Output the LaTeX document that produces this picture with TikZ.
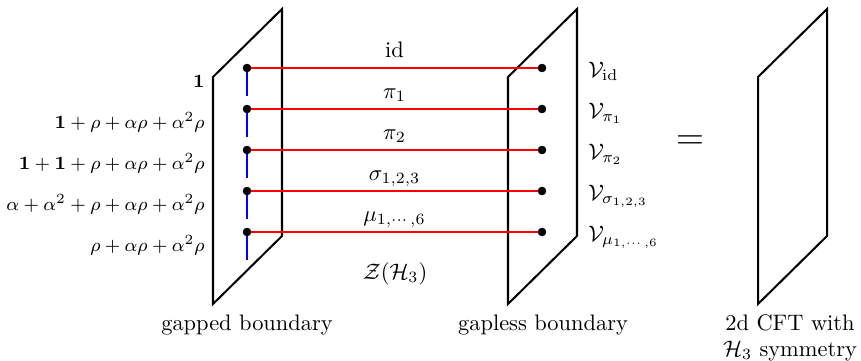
\documentclass[tikz,border=0pt]{standalone}
\usepackage{amsmath,amssymb,graphicx}
\newcommand{\leftmath}[1]{\scalebox{1.042}{$#1$}}
\begin{document}
\begin{tikzpicture}[x=0.446pt,y=-0.446pt,
  plane/.style={draw, line width=0.9pt, line join=miter},
  dotnode/.style={circle, fill, inner sep=0pt, minimum size=3.7pt},
  redline/.style={red, line width=0.9pt},
  blueline/.style={blue, line width=0.9pt},
  leftlab/.style={font=\footnotesize, anchor=base east, inner sep=0pt},
  vlab/.style={anchor=base west, inner sep=0pt},
  mlab/.style={anchor=base, inner sep=0pt, yshift=4.9pt},
  botlab/.style={anchor=base, inner sep=0pt}]
\useasboundingbox (0,0) rectangle (861,360);

% planes
\foreach \n/\dx in {A/0, B/295, C/545} {
  \coordinate (\n1) at (213+\dx,77);
  \coordinate (\n2) at (282+\dx,9);
  \coordinate (\n3) at (282+\dx,236);
  \coordinate (\n4) at (213+\dx,304);
  \draw[plane] (\n1) -- (\n2) -- (\n3) -- (\n4) -- cycle;
}

% dots
\foreach \i/\y in {1/68, 2/109, 3/150, 4/191, 5/232} {
  \node[dotnode] (L\i) at (247,\y) {};
  \node[dotnode] (R\i) at (542,\y) {};
  \coordinate (D\i) at (247,\y+28);
  \draw[blueline] (L\i.center) -- (D\i);
}

\draw[redline] (L1.center) -- node[mlab, text=black] {id} (R1.center);
\draw[redline] (L2.center) -- node[mlab, text=black] {$\pi_1$} (R2.center);
\draw[redline] (L3.center) -- node[mlab, text=black] {$\pi_2$} (R3.center);
\draw[redline] (L4.center) -- node[mlab, text=black] {$\sigma_{1,2,3}$} (R4.center);
\draw[redline] (L5.center) -- node[mlab, text=black] {$\mu_{1,\cdots,6}$} (R5.center);

\foreach \i in {1,...,5} {
  \node[dotnode] at (L\i) {};
  \node[dotnode] at (R\i) {};
}

% left labels
\node[leftlab] (l1) at (205,87) {\leftmath{\mathbf{1}}};
\node[leftlab] (l2) at (205,128) {\leftmath{\mathbf{1}+\rho+\alpha\rho+\alpha^2\rho}};
\node[leftlab] (l3) at (205,169) {\leftmath{\mathbf{1}+\mathbf{1}+\rho+\alpha\rho+\alpha^2\rho}};
\node[leftlab] (l4) at (205,210) {\leftmath{\alpha+\alpha^2+\rho+\alpha\rho+\alpha^2\rho}};
\node[leftlab] (l5) at (205,251) {\leftmath{\rho+\alpha\rho+\alpha^2\rho}};

% right labels
\node[vlab] (v1) at (588,77) {$\mathcal{V}_{\mathrm{id}}$};
\node[vlab] (v2) at (588,118) {$\mathcal{V}_{\pi_1}$};
\node[vlab] (v3) at (588,159) {$\mathcal{V}_{\pi_2}$};
\node[vlab] (v4) at (588,200) {$\mathcal{V}_{\sigma_{1,2,3}}$};
\node[vlab] (v5) at (588,241) {$\mathcal{V}_{\mu_{1,\cdots,6}}$};

\node[anchor=base, inner sep=0pt] (z) at (395,279) {$\mathcal{Z}(\mathcal{H}_3)$};

\node[inner sep=0pt, font=\fontsize{16}{19}\selectfont] (eq) at (690,143) {$=$};

\node[botlab] (g1) at (247,330) {gapped boundary};
\node[botlab] (g2) at (543,330) {gapless boundary};
\node[botlab] (g3) at (790,330) {2d CFT with};
\node[botlab] (g4) at (790,356) {$\mathcal{H}_3$ symmetry};
\end{tikzpicture}
\end{document}
